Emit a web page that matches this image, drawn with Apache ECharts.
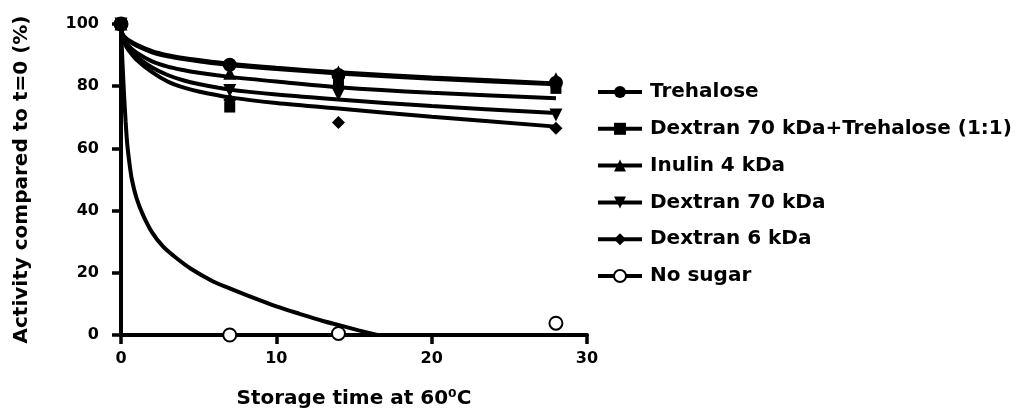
<!DOCTYPE html>
<html>
<head>
<meta charset="utf-8">
<script src="https://cdn.jsdelivr.net/npm/echarts@6/dist/echarts.min.js"></script>
<style>html,body{margin:0;padding:0;background:#fff;}#c{width:1022px;height:415px;}</style>
</head>
<body>
<div id="c"></div>
<script>
// ---- data ----
var seriesNames = ['Trehalose', 'Dextran 70 kDa+Trehalose (1:1)', 'Inulin 4 kDa', 'Dextran 70 kDa', 'Dextran 6 kDa', 'No sugar'];
var xTicks = [0, 10, 20, 30];
var yTicks = [0, 20, 40, 60, 80, 100];

// measured points
var tMeasured = [0, 7, 14, 28];
var trehalosePts = [100, 86.9, 83.6, 81.1];
var dexTrePts = [100, 73.3, 81.8, 79.3];
var inulinPts = [100, 84.2, 84.6, 82.4];
var dex70Pts = [100, 78.6, 77.3, 70.7];
var dex6Pts = [100, 75.6, 68.3, 66.5];
var noSugarPts = [100, 0, 0.5, 3.8];

// fitted curves
var tCurve = [0, 0.02, 0.1, 0.25, 0.5, 1, 2, 3, 4, 5, 7, 10, 14, 20, 28];
var trehaloseFit = [100, 98.2, 96.8, 95.8, 94.8, 93.4, 91.3, 90.0, 89.1, 88.4, 87.2, 85.9, 84.5, 82.8, 80.9];
var dexTreFit = [100, 97.6, 95.8, 94.5, 92.9, 90.8, 88.0, 86.3, 85.2, 84.3, 83.0, 81.5, 79.7, 77.9, 76.1];
var inulinFit = [100, 98.0, 96.5, 95.4, 94.4, 93.0, 90.9, 89.6, 88.7, 88.0, 86.8, 85.5, 84.1, 82.4, 80.6];
var dex70Fit = [100, 97.3, 95.3, 93.9, 92.1, 89.5, 86.0, 83.6, 81.9, 80.7, 78.9, 77.3, 75.7, 73.6, 71.4];
var dex6Fit = [100, 97.0, 95.0, 93.5, 91.5, 88.5, 84.5, 81.5, 79.6, 78.3, 76.4, 74.6, 72.8, 70.2, 67.0];
var tNoSugar = [0, 0.05, 0.1, 0.2, 0.3, 0.4, 0.55, 0.7, 1, 1.4, 2, 2.7, 3.5, 4.5, 5.9, 7, 8.5, 10, 11.5, 13, 14.1, 15.3, 16.5];
var noSugarFit = [100, 93, 87, 77, 68.5, 61.5, 55, 50, 44, 38.8, 33, 28.5, 25, 21.3, 17.3, 15, 12, 9.2, 6.8, 4.5, 3.1, 1.5, 0];

// ---- build ----
function pairs(xs, ys) { return xs.map(function (x, i) { return [x, ys[i]]; }); }
var invTri = 'path://M0,0 L10,0 L5,9 Z';
var defs = [
  { name: seriesNames[0], fit: pairs(tCurve, trehaloseFit), pts: pairs(tMeasured, trehalosePts), symbol: 'circle', size: 14, z: 10 },
  { name: seriesNames[1], fit: pairs(tCurve, dexTreFit), pts: pairs(tMeasured, dexTrePts), symbol: 'rect', size: 11, z: 8 },
  { name: seriesNames[2], fit: pairs(tCurve, inulinFit), pts: pairs(tMeasured, inulinPts), symbol: 'triangle', size: 13, z: 9 },
  { name: seriesNames[3], fit: pairs(tCurve, dex70Fit), pts: pairs(tMeasured, dex70Pts), symbol: invTri, size: 13, z: 7 },
  { name: seriesNames[4], fit: pairs(tCurve, dex6Fit), pts: pairs(tMeasured, dex6Pts), symbol: 'diamond', size: 13, z: 6 },
  { name: seriesNames[5], fit: pairs(tNoSugar, noSugarFit), pts: pairs(tMeasured, noSugarPts), symbol: 'emptyCircle', size: 13, z: 5 }
];
var series = [];
defs.forEach(function (d) {
  series.push({
    type: 'line', name: d.name, data: d.fit, smooth: 0.3,
    showSymbol: false, symbol: d.symbol, symbolSize: d.size,
    lineStyle: { color: '#000', width: 4 }, itemStyle: { color: '#000', borderColor: '#000', opacity: 1 },
    z: 2, silent: true, clip: false
  });
});
defs.forEach(function (d) {
  series.push({
    type: 'scatter', name: d.name, data: d.pts, symbol: d.symbol, symbolSize: d.size,
    itemStyle: d.symbol === 'emptyCircle' ? { color: '#000', borderColor: '#000', borderWidth: 2.5, opacity: 1 } : { color: '#000', opacity: 1 },
    z: d.z, clip: false
  });
});

var font = 'DejaVu Sans';
var chart = echarts.init(document.getElementById('c'), null, { renderer: 'canvas' });
chart.setOption({
  animation: false,
  backgroundColor: '#fff',
  grid: { left: 121, right: 435, top: 24, bottom: 80, containLabel: false },
  xAxis: {
    type: 'value', min: xTicks[0], max: xTicks[xTicks.length - 1], interval: 10,
    name: 'Storage time at 60\u2070C', nameLocation: 'middle', nameGap: 54,
    nameTextStyle: { fontFamily: font, fontWeight: 'bold', fontSize: 20, color: '#000' },
    axisLine: { show: true, lineStyle: { color: '#000', width: 4 } },
    axisTick: { show: true, length: 9, lineStyle: { color: '#000', width: 3.5 } },
    axisLabel: { fontFamily: font, fontWeight: 'bold', fontSize: 16, color: '#000', margin: 16 },
    splitLine: { show: false }
  },
  yAxis: {
    type: 'value', min: yTicks[0], max: yTicks[yTicks.length - 1], interval: 20,
    name: 'Activity compared to t=0 (%)', nameLocation: 'middle', nameGap: 89,
    nameTextStyle: { fontFamily: font, fontWeight: 'bold', fontSize: 20, color: '#000' },
    axisLine: { show: true, lineStyle: { color: '#000', width: 4 } },
    axisTick: { show: true, length: 9, lineStyle: { color: '#000', width: 3.5 } },
    axisLabel: { fontFamily: font, fontWeight: 'bold', fontSize: 16, color: '#000', margin: 22 },
    splitLine: { show: false }
  },
  legend: {
    data: seriesNames, orient: 'vertical', left: 591, top: 76,
    itemWidth: 44, itemHeight: 15, itemGap: 14.8,
    lineStyle: { width: 4 },
    textStyle: { fontFamily: font, fontWeight: 'bold', fontSize: 20, color: '#000', lineHeight: 22, padding: [0, 0, 0, 3] },
    selectedMode: false
  },
  series: series
});
</script>
</body>
</html>
